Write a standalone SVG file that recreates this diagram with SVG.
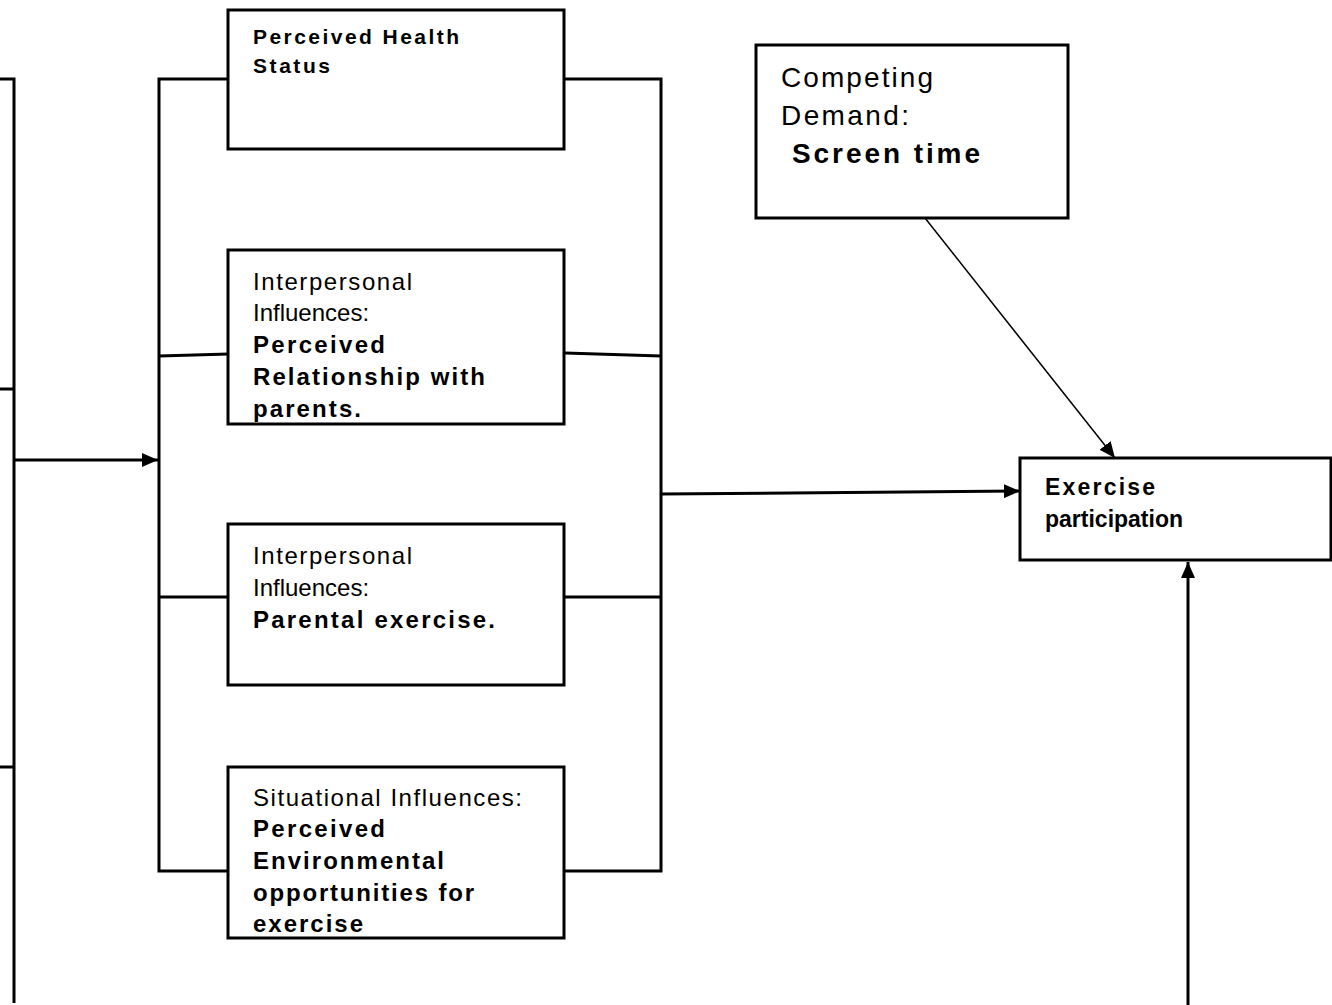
<svg xmlns="http://www.w3.org/2000/svg" width="1332" height="1005" viewBox="0 0 1332 1005">
<style>
.box{fill:#fff;stroke:#000;stroke-width:3}
.ln{fill:none;stroke:#000;stroke-width:3}
.thin{fill:none;stroke:#000;stroke-width:1.5}
text{font-family:"Liberation Sans",Arial,sans-serif;fill:#000}
.b{font-weight:bold}
.t22{font-size:24px}
.t20{font-size:21px}
.t26{font-size:28px}
.t21{font-size:23px}
</style>
<defs>
<marker id="ah" viewBox="0 0 16 14" refX="16" refY="7" markerWidth="16" markerHeight="14" markerUnits="userSpaceOnUse" orient="auto">
<path d="M0,0 L16,7 L0,14 z" fill="#000"/>
</marker>
</defs>
<g id="connectors">
<path class="ln" d="M0,79 H14 V1003"/>
<path class="ln" d="M0,389 H14"/>
<path class="ln" d="M0,767 H14"/>
<path class="ln" d="M14,460 H158" marker-end="url(#ah)"/>
<path class="ln" d="M229,79 H159 V871 H229"/>
<path class="ln" d="M159,356 L229,354"/>
<path class="ln" d="M159,597 H229"/>
<path class="ln" d="M565,79 H661 V871 H565"/>
<path class="ln" d="M565,353 L661,356"/>
<path class="ln" d="M565,597 H661"/>
<path class="ln" d="M661,494 L1020,491" marker-end="url(#ah)"/>
<path class="thin" d="M925,218 L1115,458" marker-end="url(#ah)"/>
<path class="ln" d="M1188,1005 V562" marker-end="url(#ah)"/>
</g>
<g id="health">
<rect class="box" x="228" y="10" width="336" height="139"/>
<text class="b t20" x="253" y="44" textLength="206" lengthAdjust="spacing">Perceived Health</text>
<text class="b t20" x="253" y="73" textLength="77" lengthAdjust="spacing">Status</text>
</g>
<g id="interpersonal-relationship">
<rect class="box" x="228" y="250" width="336" height="174"/>
<text class="t22" x="253" y="290" textLength="159" lengthAdjust="spacing">Interpersonal</text>
<text class="t22" x="253" y="321">Influences:</text>
<text class="b t22" x="253" y="353" textLength="132" lengthAdjust="spacing">Perceived</text>
<text class="b t22" x="253" y="385" textLength="232" lengthAdjust="spacing">Relationship with</text>
<text class="b t22" x="253" y="417" textLength="108" lengthAdjust="spacing">parents.</text>
</g>
<g id="interpersonal-exercise">
<rect class="box" x="228" y="524" width="336" height="161"/>
<text class="t22" x="253" y="564" textLength="159" lengthAdjust="spacing">Interpersonal</text>
<text class="t22" x="253" y="596">Influences:</text>
<text class="b t22" x="253" y="628" textLength="242" lengthAdjust="spacing">Parental exercise.</text>
</g>
<g id="situational">
<rect class="box" x="228" y="767" width="336" height="171"/>
<text class="t22" x="253" y="806" textLength="269" lengthAdjust="spacing">Situational Influences:</text>
<text class="b t22" x="253" y="837" textLength="132" lengthAdjust="spacing">Perceived</text>
<text class="b t22" x="253" y="869" textLength="191" lengthAdjust="spacing">Environmental</text>
<text class="b t22" x="253" y="901" textLength="221" lengthAdjust="spacing">opportunities for</text>
<text class="b t22" x="253" y="932" textLength="110" lengthAdjust="spacing">exercise</text>
</g>
<g id="competing">
<rect class="box" x="756" y="45" width="312" height="173"/>
<text class="t26" x="781" y="87" textLength="152" lengthAdjust="spacing">Competing</text>
<text class="t26" x="781" y="125" textLength="128" lengthAdjust="spacing">Demand:</text>
<text class="b t26" x="792" y="163" textLength="188" lengthAdjust="spacing">Screen time</text>
</g>
<g id="exercise">
<rect class="box" x="1020" y="458" width="311" height="102"/>
<text class="b t21" x="1045" y="495" textLength="110" lengthAdjust="spacing">Exercise</text>
<text class="b t21" x="1045" y="527">participation</text>
</g>
</svg>
